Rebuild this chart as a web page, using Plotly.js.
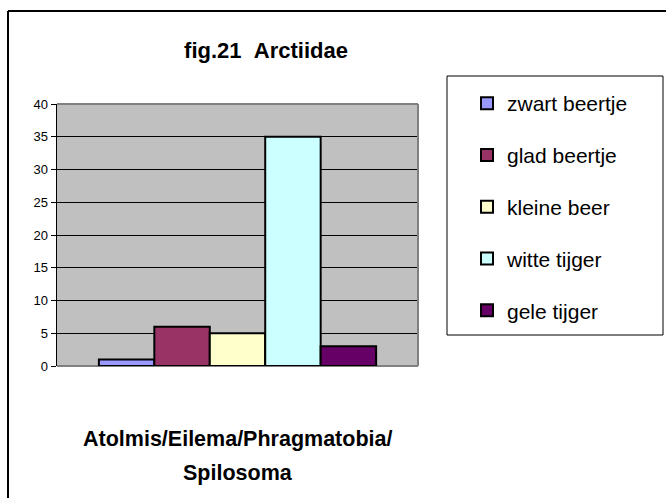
<!DOCTYPE html>
<html><head><meta charset="utf-8">
<script src="https://cdn.plot.ly/plotly-3.0.1.min.js"></script>
<style>html,body{margin:0;padding:0;background:#fff}#chart{width:666px;height:498px}</style>
</head><body><div id="chart"></div>
<script>
// ---- data ----
const seriesNames = ['zwart beertje', 'glad beertje', 'kleine beer', 'witte tijger', 'gele tijger'];
const seriesValues = [1, 6, 5, 35, 3];
const seriesColors = ['#9999FF', '#993366', '#FFFFCC', '#CCFFFF', '#660066'];
const category = ['Atolmis/Eilema/Phragmatobia/Spilosoma'];
const yTicks = [0, 5, 10, 15, 20, 25, 30, 35, 40];
const chartTitle = 'fig.21\u00A0\u00A0Arctiidae';
const xTitleLines = ['Atolmis/Eilema/Phragmatobia/', 'Spilosoma'];

// ---- layout geometry (pixels) ----
const W = 666, H = 498, L = 57, R = 418, T = 104, B = 366;
const px = x => (x - L) / (R - L);
const py = y => (B - y) / (B - T);

const traces = seriesNames.map((n, i) => ({
  type: 'bar', name: n, x: category, y: [seriesValues[i]],
  marker: {color: seriesColors[i], line: {color: '#000', width: 2}},
  legendgroup: 'g' + i, hoverinfo: 'y'
}));

const titleLineY = [439, 473];

const layout = {
  width: W, height: H,
  margin: {l: L, r: W - R, t: T, b: H - B, pad: 0},
  paper_bgcolor: '#fff', plot_bgcolor: '#C0C0C0',
  font: {family: 'Liberation Sans, Arial, sans-serif', color: '#000'},
  title: {text: '<b>' + chartTitle + '</b>', font: {size: 22, color: '#000'},
    x: 266 / W, xanchor: 'center', y: 1 - 50 / H, yanchor: 'middle', xref: 'container', yref: 'container'},
  barmode: 'group', bargap: 0.232, bargroupgap: 0,
  showlegend: true,
  xaxis: {showticklabels: false, ticks: '', showgrid: false, zeroline: false, showline: false, fixedrange: true},
  yaxis: {range: [0, 40], tickvals: yTicks, ticks: 'outside', ticklen: 5, tickcolor: '#000', tickwidth: 1,
    showline: true, linecolor: '#000', linewidth: 1.5, gridcolor: '#000', gridwidth: 1,
    zeroline: true, zerolinecolor: '#808080', zerolinewidth: 2,
    tickfont: {size: 13, color: '#000'}, fixedrange: true},
  legend: {x: px(467), xanchor: 'left', y: py(83), yanchor: 'top', font: {size: 21, color: '#000'},
    bgcolor: 'rgba(0,0,0,0)', borderwidth: 0, tracegroupgap: 21.5, traceorder: 'grouped'},
  annotations: xTitleLines.map((t, i) => ({
    text: '<b>' + t + '</b>', xref: 'paper', yref: 'paper', x: 0.5, xanchor: 'center',
    y: py(titleLineY[i]), yanchor: 'middle', showarrow: false, font: {size: 21.5, color: '#000'}
  })),
  shapes: [
    // plot area border top & right (gray)
    {type: 'line', xref: 'paper', yref: 'paper', x0: 0, x1: 1, y0: 1, y1: 1, line: {color: '#808080', width: 2}},
    {type: 'line', xref: 'paper', yref: 'paper', x0: 1, x1: 1, y0: 0, y1: 1, line: {color: '#808080', width: 2}},
    // legend box
    {type: 'rect', xref: 'paper', yref: 'paper', x0: px(447), x1: px(663), y0: py(335), y1: py(76), line: {color: '#000', width: 1}},
    // outer chart border (top & left)
    {type: 'line', xref: 'paper', yref: 'paper', x0: px(8), x1: px(666), y0: py(11), y1: py(11), line: {color: '#000', width: 2}},
    {type: 'line', xref: 'paper', yref: 'paper', x0: px(8), x1: px(8), y0: py(11), y1: py(500), line: {color: '#000', width: 2}}
  ]
};

Plotly.newPlot('chart', traces, layout, {displayModeBar: false, staticPlot: true});
</script>
</body></html>
